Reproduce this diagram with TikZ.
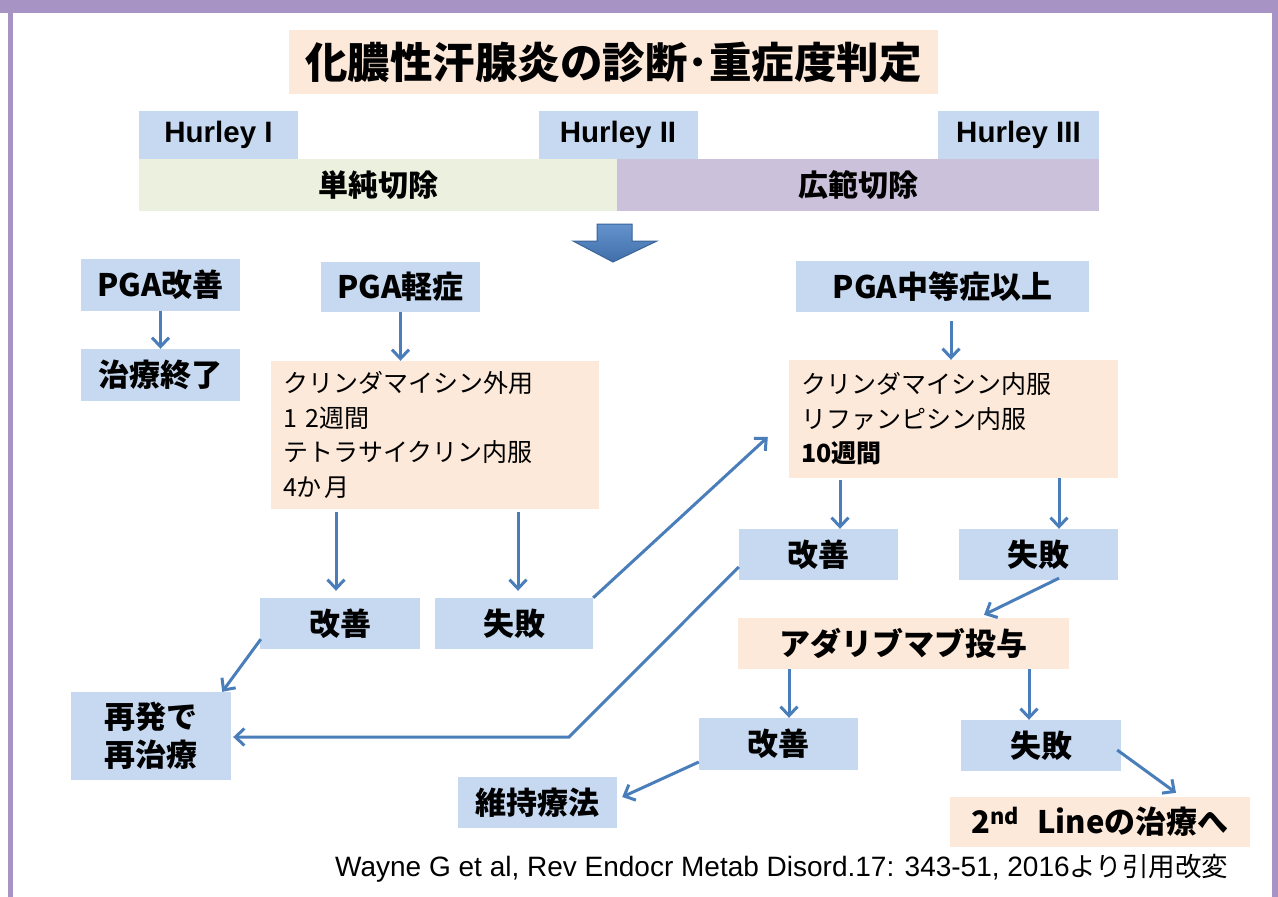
\documentclass[tikz,border=0pt]{standalone}
\usepackage{fontspec}
\setmainfont{Liberation Sans}
\newfontfamily\jp{Noto Sans CJK JP}
\usetikzlibrary{arrows.meta,calc}
\definecolor{lblue}{HTML}{C6D9F1}
\definecolor{peach}{HTML}{FDE9D9}
\definecolor{lgreen}{HTML}{EBF1DE}
\definecolor{lpurple}{HTML}{CCC1DA}
\definecolor{arrblue}{HTML}{4A7EBB}
\definecolor{framec}{HTML}{A894C4}
\definecolor{bahi}{HTML}{6593CD}
\definecolor{balo}{HTML}{3F6EA8}
\definecolor{baedge}{HTML}{3A6497}
\tikzset{
  box/.style={inner sep=0pt, anchor=center, font=\jp\bfseries\fontsize{31}{38}\selectfont, align=center},
  bluebox/.style={box, fill=lblue},
  peachbox/.style={box, fill=peach},
  hurley/.style={box, fill=lblue, font=\bfseries\fontsize{29.5}{34}\selectfont},
  txbox/.style={fill=peach, inner ysep=0pt, inner xsep=12pt, anchor=center, align=left,
    font=\jp\fontsize{25}{34.5}\selectfont},
  arr/.style={draw=arrblue, line width=3pt, -{Straight Barb[length=9pt,width=17pt]}},
}
\begin{document}
\begin{tikzpicture}[x=1pt,y=-1pt]
\useasboundingbox (0,0) rectangle (1278,897);
\fill[white] (0,0) rectangle (1278,897);
% frame
\fill[framec] (0,0) rectangle (1278,13);
\fill[framec] (8,0) rectangle (13,897);
\fill[framec] (1272,0) rectangle (1278,897);

% title
\node[peachbox, minimum width=649, minimum height=64, font=\jp\bfseries\fontsize{42.5}{48}\selectfont] (title) at (613.5,62) {化膿性汗腺炎の診断･重症度判定};

% Hurley
\node[hurley, minimum width=478, minimum height=52, fill=lgreen, font=\jp\bfseries\fontsize{30}{34}\selectfont] (simple) at (378,185) {単純切除};
\node[hurley, minimum width=482, minimum height=52, fill=lpurple, font=\jp\bfseries\fontsize{30}{34}\selectfont] (wide) at (858,185) {広範切除};
\node[hurley, minimum width=159, minimum height=48] (h1) at (218.5,135) {Hurley I};
\node[hurley, minimum width=159, minimum height=48] (h2) at (618,135) {Hurley II};
\node[hurley, minimum width=161, minimum height=48] (h3) at (1018.5,135) {Hurley III};

% block arrow
\draw[line width=1pt, draw=baedge, top color=bahi, bottom color=balo]
  (597,224) -- (632,224) -- (632,241) -- (657,241) -- (613,262) -- (573,241) -- (597,241) -- cycle;

% left column
\node[bluebox, minimum width=159, minimum height=52] (pga1) at (160.5,285) {PGA改善};
\node[bluebox, minimum width=159, minimum height=52] (end1) at (160.5,375) {治療終了};

% middle column
\node[bluebox, minimum width=159, minimum height=50] (pga2) at (400.5,287) {PGA軽症};
\node[txbox, text width=304, minimum height=148] (tx1) at (435,435)
  {クリンダマイシン外用\\1\hspace{9pt}2週間\\テトラサイクリン内服\\4か\hspace{3pt}月};
\node[bluebox, minimum width=160, minimum height=51] (imp1) at (340,623.5) {改善};
\node[bluebox, minimum width=158, minimum height=51] (fail1) at (514,623.5) {失敗};
\node[bluebox, minimum width=160, minimum height=88] (retreat) at (151,736) {再発で\\再治療};

% right column
\node[bluebox, minimum width=293, minimum height=51] (pga3) at (942.5,286.5) {PGA中等症以上};
\node[txbox, text width=305, minimum height=118] (tx2) at (953.5,419)
  {クリンダマイシン内服\\リファンピシン内服\\{\bfseries 10週間}};
\node[bluebox, minimum width=159, minimum height=51] (imp2) at (818.5,554.5) {改善};
\node[bluebox, minimum width=159, minimum height=51] (fail2) at (1038.5,554.5) {失敗};
\node[peachbox, minimum width=331, minimum height=51] (ada) at (903.5,643.5) {アダリブマブ投与};
\node[bluebox, minimum width=159, minimum height=52] (imp3) at (778.5,744) {改善};
\node[bluebox, minimum width=160, minimum height=51] (fail3) at (1041,745.5) {失敗};
\node[peachbox, minimum width=300, minimum height=50] (second) at (1100,822) {2\textsuperscript{nd}\hspace{18pt}Lineの治療へ};
\node[bluebox, minimum width=159, minimum height=51] (maint) at (537.5,802.5) {維持療法};

% citation
\node[anchor=base west, inner sep=0pt, font=\fontsize{28}{32}\selectfont] (cite) at (335,876)
  {Wayne G et al, Rev Endocr Metab Disord.17: 343-51, 2016{\jp\fontsize{26.5}{32}\selectfont より引用改変}};

% connectors
\draw[arr] (pga1.south) -- (end1.north);
\draw[arr] (pga2.south) -- (pga2.south |- tx1.north);
\draw[arr] ($(pga3.south)+(8.5,9)$) -- ($(tx2.north)+(-2.5,0)$);
\draw[arr] ($(tx1.south)+(-99,3)$) -- ($(imp1.north)+(-4,-7)$);
\draw[arr] ($(tx1.south)+(83,3)$) -- ($(fail1.north)+(4,-7)$);
\draw[arr] (fail1.north east) -- ($(tx2.west)+(-21,18)$);
\draw[arr] ($(imp1.south west)+(1,-10)$) -- ($(retreat.north east)+(-9,0)$);
\draw[arr] ($(tx2.south)+(-113.5,2)$) -- ($(imp2.north)+(21.5,0)$);
\draw[arr] ($(tx2.south)+(105.5,0)$) -- ($(fail2.north)+(20.5,0)$);
\draw[arr] ($(fail2.south)+(20.5,-2)$) -- ($(ada.north)+(80.5,-3)$);
\draw[arr] ($(ada.south)+(-114.5,0)$) -- ($(imp3.north)+(10.5,0)$);
\draw[arr] ($(ada.south)+(125.5,0)$) -- ($(fail3.north)+(-12,0)$);
\draw[arr] ($(fail3.east)+(-4,4.5)$) -- ($(second.north)+(76,-4)$);
\draw[arr] ($(imp3.west)+(0,18)$) -- ($(maint.east)+(5,-5.5)$);
\coordinate (bend) at (569,737);
\draw[arr] ($(imp2.west)+(0,12.5)$) -- (bend) -- ($(retreat.east)+(2,1)$);
\end{tikzpicture}
\end{document}
